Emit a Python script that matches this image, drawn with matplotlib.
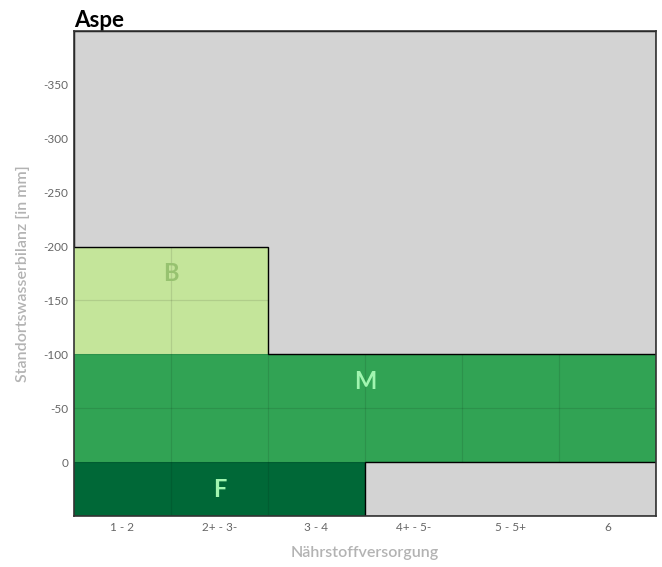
import matplotlib
matplotlib.use("Agg")
import matplotlib.pyplot as plt
from matplotlib.patches import Polygon, Rectangle

plt.rcParams['font.family'] = ['Lato', 'DejaVu Sans']

categories = ["1 - 2", "2+ - 3-", "3 - 4", "4+ - 5-", "5 - 5+", "6"]
y_ticks = [-350, -300, -250, -200, -150, -100, -50, 0]
y_limits = (50, -400)

# zones: label, x start, x end (category index), y top, y bottom (mm)
zone_labels = ["B", "M", "F"]
zone_x0 = [0, 0, 0]
zone_x1 = [2, 6, 3]
zone_y0 = [-200, -100, 0]
zone_y1 = [-100, 0, 50]
zone_label_x = [1, 3, 1.5]
zone_label_y = [-175, -75, 25]
zone_colors = ["#c4e59a", "#31a354", "#006837"]
zone_text_colors = ["#97c270", "#a1f5b0", "#a1f5b0"]

fig = plt.figure(figsize=(6.62, 5.67), dpi=100)
ax = fig.add_axes([74/662, 1 - 516/567, (656-74)/662, (516-31)/567])

n = len(categories)
ax.set_xlim(0, n)
ax.set_ylim(*y_limits)

for lab, x0, x1, y0, y1, c in zip(zone_labels, zone_x0, zone_x1, zone_y0, zone_y1, zone_colors):
    ax.add_patch(Rectangle((x0, y0), x1 - x0, y1 - y0, facecolor=c, edgecolor='none', zorder=0))

# grid lines
for i in range(1, n):
    ax.axvline(i, color='black', alpha=0.1, lw=0.9, zorder=1)
for yv in range(-400, 51, 50):
    ax.axhline(yv, color='black', alpha=0.1, lw=0.9, zorder=1)

# area outside all zones
top_x = [0, n, n, zone_x1[0], zone_x1[0], 0]
top_y = [y_limits[1], y_limits[1], zone_y0[1], zone_y0[1], zone_y0[0], zone_y0[0]]
ax.add_patch(Polygon(list(zip(top_x, top_y)), closed=True, facecolor='#d3d3d3',
                     edgecolor='black', lw=1.0, zorder=2))
ax.add_patch(Rectangle((zone_x1[2], zone_y0[2]), n - zone_x1[2], zone_y1[2] - zone_y0[2],
                       facecolor='#d3d3d3', edgecolor='black', lw=1.0, zorder=2))

for lab, lx, ly, tc in zip(zone_labels, zone_label_x, zone_label_y, zone_text_colors):
    ax.text(lx, ly, lab, ha='center', va='center', fontsize=17, fontweight='bold',
            color=tc, zorder=3)

ax.set_xticks([i + 0.5 for i in range(n)])
ax.set_xticklabels(categories)
ax.set_yticks(y_ticks)
ax.set_yticklabels([str(v) for v in y_ticks])
ax.tick_params(length=0, labelsize=8.5, colors='#666666', pad=4)

for s in ax.spines.values():
    s.set_color('#333333')
    s.set_linewidth(1.2)
    s.set_zorder(4)

ax.set_xlabel("Nährstoffversorgung", fontsize=11.5, color='#b3b3b3', labelpad=10,
              fontweight='semibold')
ax.set_ylabel("Standortswasserbilanz [in mm]", fontsize=11.5, color='#b3b3b3', labelpad=10,
              fontweight='semibold')
ax.set_title("Aspe", loc='left', fontsize=16, fontweight='bold', pad=2)

fig.savefig("out.png", dpi=100)
